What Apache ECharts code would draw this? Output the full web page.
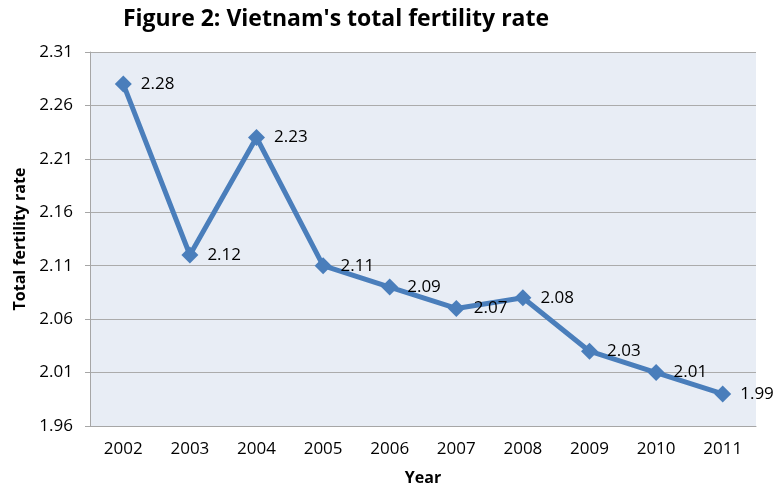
<!DOCTYPE html>
<html>
<head>
<meta charset="utf-8">
<script src="https://cdn.jsdelivr.net/npm/echarts@6/dist/echarts.min.js"></script>
<style>
html,body{margin:0;padding:0;background:#fff;}
#chart{width:782px;height:491px;}
</style>
</head>
<body>
<div id="chart"></div>
<script>
const years = ['2002','2003','2004','2005','2006','2007','2008','2009','2010','2011'];
const fertility = [2.28, 2.12, 2.23, 2.11, 2.09, 2.07, 2.08, 2.03, 2.01, 1.99];
const yTicks = [1.96, 2.01, 2.06, 2.11, 2.16, 2.21, 2.26, 2.31];

const FONT = '"Open Sans", "Liberation Sans", sans-serif';
const chart = echarts.init(document.getElementById('chart'));
chart.setOption({
  animation: false,
  title: {
    text: "Figure 2: Vietnam's total fertility rate",
    left: 331, top: 3, textAlign: 'center',
    textStyle: {fontFamily: FONT, fontSize: 23, fontWeight: 'bold', color: '#000'}
  },
  grid: {left: 90, right: 26, top: 52, bottom: 63, show: true,
    backgroundColor: '#E8EDF5', borderWidth: 0},
  xAxis: {
    type: 'category', data: years, boundaryGap: true,
    name: 'Year', nameLocation: 'middle', nameGap: 44,
    nameTextStyle: {fontFamily: FONT, fontSize: 16, fontWeight: 'bold', color: '#000'},
    axisLine: {lineStyle: {color: '#A6A6A6', width: 1}},
    axisTick: {show: false},
    axisLabel: {fontFamily: FONT, fontSize: 17, color: '#000', margin: 15}
  },
  yAxis: {
    type: 'value', min: 1.96, max: 2.31, interval: 0.05,
    name: 'Total fertility rate', nameLocation: 'middle', nameGap: 62,
    nameTextStyle: {fontFamily: FONT, fontSize: 16, fontWeight: 'bold', color: '#000'},
    axisLine: {show: true, lineStyle: {color: '#A6A6A6', width: 1}},
    axisTick: {show: true, length: 5, lineStyle: {color: '#A6A6A6'}},
    axisLabel: {fontFamily: FONT, fontSize: 17, color: '#000', margin: 17,
      formatter: v => {
        const m = yTicks.find(t => Math.abs(t - v) < 1e-6);
        return m !== undefined ? m.toFixed(2) : '';
      }},
    splitLine: {lineStyle: {color: '#ABABAB', width: 1}}
  },
  series: [{
    type: 'line', data: fertility,
    symbol: 'diamond', symbolSize: 17,
    lineStyle: {color: '#4A7EBB', width: 5},
    itemStyle: {color: '#4A7EBB'},
    label: {show: true, position: 'right', distance: 9,
      fontFamily: FONT, fontSize: 17, color: '#000',
      formatter: p => p.value.toFixed(2)}
  }]
});
</script>
</body>
</html>
